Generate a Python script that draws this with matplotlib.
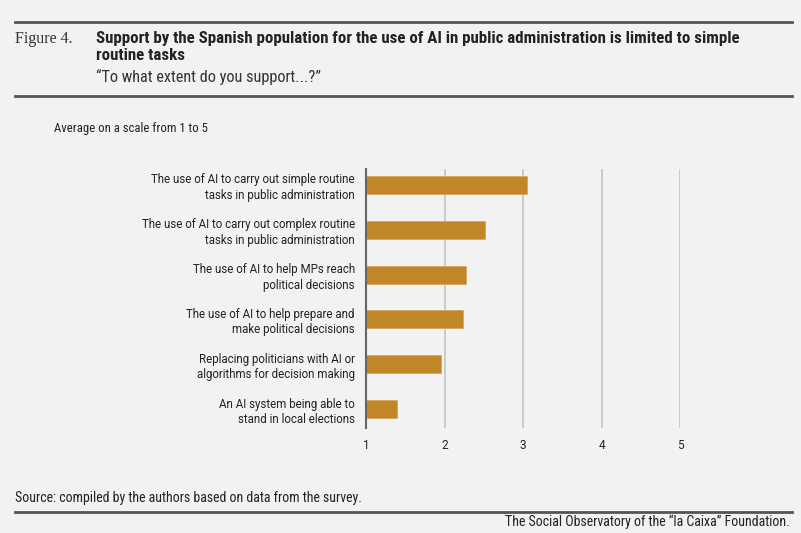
import matplotlib
matplotlib.use('Agg')
import matplotlib.pyplot as plt
from matplotlib.lines import Line2D

# Data
categories = [
    "The use of AI to carry out simple routine\ntasks in public administration",
    "The use of AI to carry out complex routine\ntasks in public administration",
    "The use of AI to help MPs reach\npolitical decisions",
    "The use of AI to help prepare and\nmake political decisions",
    "Replacing politicians with AI or\nalgorithms for decision making",
    "An AI system being able to\nstand in local elections",
]
values = [3.05, 2.51, 2.28, 2.23, 1.95, 1.40]
x_ticks = [1, 2, 3, 4, 5]

bg = '#f2f2f2'
bar_color = '#c08628'
rule_color = '#555555'
narrow = ['Roboto Condensed', 'DejaVu Sans']

fig = plt.figure(figsize=(8.01, 5.33), dpi=100, facecolor=bg)
ax = fig.add_axes([366 / 801, 1 - 428 / 533, 314 / 801, 259 / 533])
ax.set_facecolor(bg)

ypos = list(range(len(categories)))
ax.barh(ypos, [v - 1 for v in values], left=1, height=0.4,
        color=bar_color, edgecolor='#d9a85a', linewidth=0.6, zorder=3)

ax.set_xlim(1, 5)
ax.set_ylim(5 + 19 / 45, -16 / 45)
ax.set_xticks(x_ticks)
ax.set_xticklabels([str(t) for t in x_ticks], fontsize=8.5, color='#222222',
                   family='Roboto')
ax.set_yticks(ypos)
ax.set_yticklabels(categories, fontsize=8.3, color='#222222', family='Roboto',
                   linespacing=1.25)
ax.tick_params(axis='both', length=0)
ax.tick_params(axis='y', pad=8)
ax.tick_params(axis='x', pad=8)
for t in ax.get_yticklabels():
    t.set_horizontalalignment('right')

for x in x_ticks[1:]:
    ax.axvline(x, color='#c4c4c4', linewidth=1.2, zorder=1)
for s in ['top', 'right', 'bottom']:
    ax.spines[s].set_visible(False)
ax.spines['left'].set_color('#666666')
ax.spines['left'].set_linewidth(1.5)
ax.spines['left'].set_zorder(4)

# Header and footer
def rule(y):
    fig.add_artist(Line2D([15 / 801, 792 / 801], [1 - y / 533, 1 - y / 533],
                          color=rule_color, linewidth=2))

rule(22)
rule(96)
rule(512)

fig.text(15 / 801, 1 - 39 / 533, "Figure 4.", family=['Liberation Serif', 'DejaVu Serif'],
         fontsize=11.5, color='#333333', va='center')
fig.text(96 / 801, 1 - 38 / 533,
         "Support by the Spanish population for the use of AI in public administration is limited to simple",
         family=narrow, fontsize=12.2, fontweight='bold', color='#222222', va='center')
fig.text(96 / 801, 1 - 55 / 533, "routine tasks",
         family=narrow, fontsize=12.2, fontweight='bold', color='#222222', va='center')
fig.text(96 / 801, 1 - 77 / 533, "\u201cTo what extent do you support...?\u201d",
         family=narrow, fontsize=11.7, color='#333333', va='center')
fig.text(54 / 801, 1 - 129 / 533, "Average on a scale from 1 to 5",
         family=narrow, fontsize=9.2, color='#222222', va='center')
fig.text(15 / 801, 1 - 498 / 533, "Source: compiled by the authors based on data from the survey.",
         family=narrow, fontsize=10, color='#222222', va='center')
fig.text(790 / 801, 1 - 522 / 533, "The Social Observatory of the \u201cla Caixa\u201d Foundation.",
         family=narrow, fontsize=10, color='#222222', va='center', ha='right')

fig.savefig('out.png', dpi=100, facecolor=bg)
